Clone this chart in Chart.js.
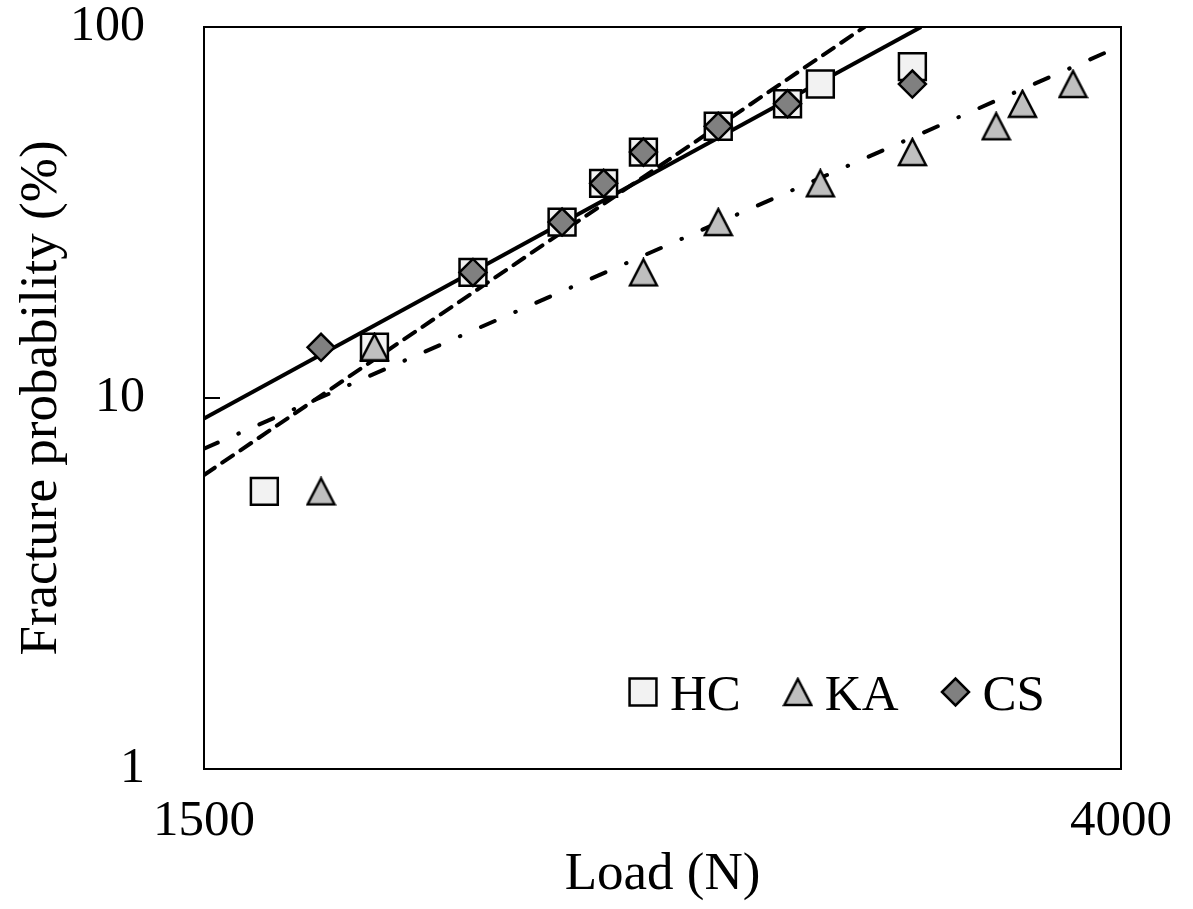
<!DOCTYPE html>
<html lang="en">
<head>
  <meta charset="UTF-8" />
  <title>Fracture probability vs load</title>
  <script src="https://cdn.jsdelivr.net/npm/chart.js@4.4.1/dist/chart.umd.min.js"></script>
  <style>
    body { margin: 0; background: #fff; }
    .chart-box { position: relative; width: 1193px; height: 909px; }
  </style>
</head>
<body>
  <div class="chart-box"><canvas id="weibullChart"></canvas></div>

  <script>
    // measured points: load (N) and fracture probability (%)
    const hcLoad = [1600, 1800, 2000, 2200, 2300, 2400, 2600, 2800, 2900, 3200];
    const hcProb = [5.6, 13.7, 21.8, 29.8, 37.9, 46.0, 54.0, 62.1, 70.2, 78.2];
    const kaLoad = [1700, 1800, 2400, 2600, 2900, 3200, 3500, 3600, 3800];
    const kaProb = [5.6, 13.7, 21.8, 29.8, 37.9, 46.0, 54.0, 62.1, 70.2];
    const csLoad = [1700, 2000, 2200, 2300, 2400, 2600, 2800, 3200];
    const csProb = [13.7, 21.8, 29.8, 37.9, 46.0, 54.0, 62.1, 70.2];

    // fitted lines, end points read where they leave the plot box
    const solidFitLoad = [1500, 3230];
    const solidFitProb = [8.8, 100];
    const dashFitLoad = [1500, 3040];
    const dashFitProb = [6.2, 100];
    const dashDotFitLoad = [1500, 4000];
    const dashDotFitProb = [7.3, 89];

    const xTicks = [1500, 4000];
    const yTicks = [1, 10, 100];
    const legendNames = ['HC', 'KA', 'CS'];

    const SERIF = "'Liberation Serif', 'Times New Roman', serif";
    const toPoints = (xs, ys) => xs.map((x, i) => ({ x: x, y: ys[i] }));

    // Excel-like triangle (bounding box centred on the point)
    function triangleMarker(w, h, fill) {
      const c = document.createElement('canvas');
      c.width = w + 4;
      c.height = h + 4;
      const g = c.getContext('2d');
      g.beginPath();
      g.moveTo(c.width / 2, 2);
      g.lineTo(c.width - 2, c.height - 2);
      g.lineTo(2, c.height - 2);
      g.closePath();
      g.fillStyle = fill;
      g.fill();
      g.lineWidth = 2.5;
      g.strokeStyle = '#000';
      g.stroke();
      return c;
    }
    const kaTriangle = triangleMarker(27, 26, '#bfbfbf');

    function markerSet(label, xs, ys, style, radius, fill, order) {
      return {
        label: label,
        data: toPoints(xs, ys),
        order: order,
        showLine: false,
        pointStyle: style,
        pointRadius: radius,
        pointHoverRadius: radius,
        pointBackgroundColor: fill,
        pointBorderColor: '#000',
        pointBorderWidth: 2.5,
        backgroundColor: fill,
        borderColor: '#000'
      };
    }

    function fitLine(xs, ys, dash, order) {
      return {
        data: toPoints(xs, ys),
        order: order,
        showLine: true,
        pointRadius: 0,
        pointHoverRadius: 0,
        borderColor: '#000',
        borderWidth: 4,
        borderDash: dash,
        borderCapStyle: dash.length ? 'round' : 'butt',
        fill: false,
        clip: 0
      };
    }

    const framePlugin = {
      id: 'frame',
      beforeDatasetsDraw(chart) {
        const { ctx, chartArea: a, scales } = chart;
        ctx.save();
        ctx.strokeStyle = '#000';
        ctx.lineWidth = 2;
        ctx.strokeRect(a.left, a.top, a.right - a.left, a.bottom - a.top);
        // short inward tick for the inner decade
        yTicks.slice(1, -1).forEach(v => {
          const y = scales.y.getPixelForValue(v);
          ctx.beginPath();
          ctx.moveTo(a.left, y);
          ctx.lineTo(a.left + 16, y);
          ctx.stroke();
        });
        ctx.restore();
      },
      afterDraw(chart) {
        const { ctx, chartArea: a } = chart;
        const y = a.bottom - 77;
        let x = a.left + 439;
        ctx.save();
        ctx.font = '51px ' + SERIF;
        ctx.textBaseline = 'alphabetic';
        legendNames.forEach(name => {
          const ds = chart.data.datasets.find(d => d.label === name);
          ctx.fillStyle = ds.pointBackgroundColor;
          ctx.strokeStyle = '#000';
          ctx.lineWidth = 2.5;
          Chart.helpers.drawPoint(ctx, {
            pointStyle: ds.pointStyle,
            radius: ds.pointRadius,
            rotation: 0,
            borderWidth: 2.5
          }, x, y);
          ctx.fillStyle = '#000';
          ctx.fillText(name, x + 27, y + 18);
          x += 27 + ctx.measureText(name).width + 57;
        });
        ctx.restore();
      }
    };

    Chart.defaults.color = '#000';
    Chart.defaults.font.family = SERIF;

    const ctx = document.getElementById('weibullChart').getContext('2d');
    const weibullChart = new Chart(ctx, {
      type: 'scatter',
      data: {
        datasets: [
          markerSet('HC', hcLoad, hcProb, 'rect', 19, '#f2f2f2', 3),
          markerSet('KA', kaLoad, kaProb, kaTriangle, 15, '#bfbfbf', 2),
          markerSet('CS', csLoad, csProb, 'rectRot', 13.5, '#808080', 1),
          fitLine(solidFitLoad, solidFitProb, [], 4),
          fitLine(dashFitLoad, dashFitProb, [13, 9], 5),
          fitLine(dashDotFitLoad, dashDotFitProb, [15, 22.5, 0.5, 22.5], 6)
        ]
      },
      options: {
        responsive: true,
        maintainAspectRatio: false,
        animation: false,
        layout: { padding: { top: 27, right: 72, left: 0, bottom: 0 } },
        plugins: {
          legend: { display: false },
          tooltip: { enabled: false }
        },
        scales: {
          x: {
            type: 'logarithmic',
            position: 'bottom',
            min: 1500,
            max: 4000,
            afterBuildTicks: s => { s.ticks = xTicks.map(v => ({ value: v })); },
            afterFit: s => {
              s.height = 140;
              s.paddingLeft = 0;
              s.paddingRight = 0;
            },
            grid: { display: false, drawTicks: false },
            border: { display: false },
            ticks: {
              padding: 22,
              maxRotation: 0,
              autoSkip: false,
              font: { size: 51 },
              callback: v => String(v)
            },
            title: {
              display: true,
              text: 'Load (N)',
              font: { size: 53 },
              padding: { top: 0, bottom: 2 }
            }
          },
          y: {
            type: 'logarithmic',
            min: 1,
            max: 100,
            afterBuildTicks: s => { s.ticks = yTicks.map(v => ({ value: v })); },
            afterFit: s => {
              s.width = 204;
              s.paddingTop = 0;
              s.paddingBottom = 0;
            },
            grid: { display: false, drawTicks: false },
            border: { display: false },
            ticks: {
              padding: 59,
              autoSkip: false,
              font: { size: 50 },
              callback: v => String(v)
            },
            title: {
              display: true,
              text: 'Fracture probability (%)',
              font: { size: 53 },
              padding: { top: 10, bottom: 0 }
            }
          }
        }
      },
      plugins: [framePlugin]
    });
  </script>
</body>
</html>
